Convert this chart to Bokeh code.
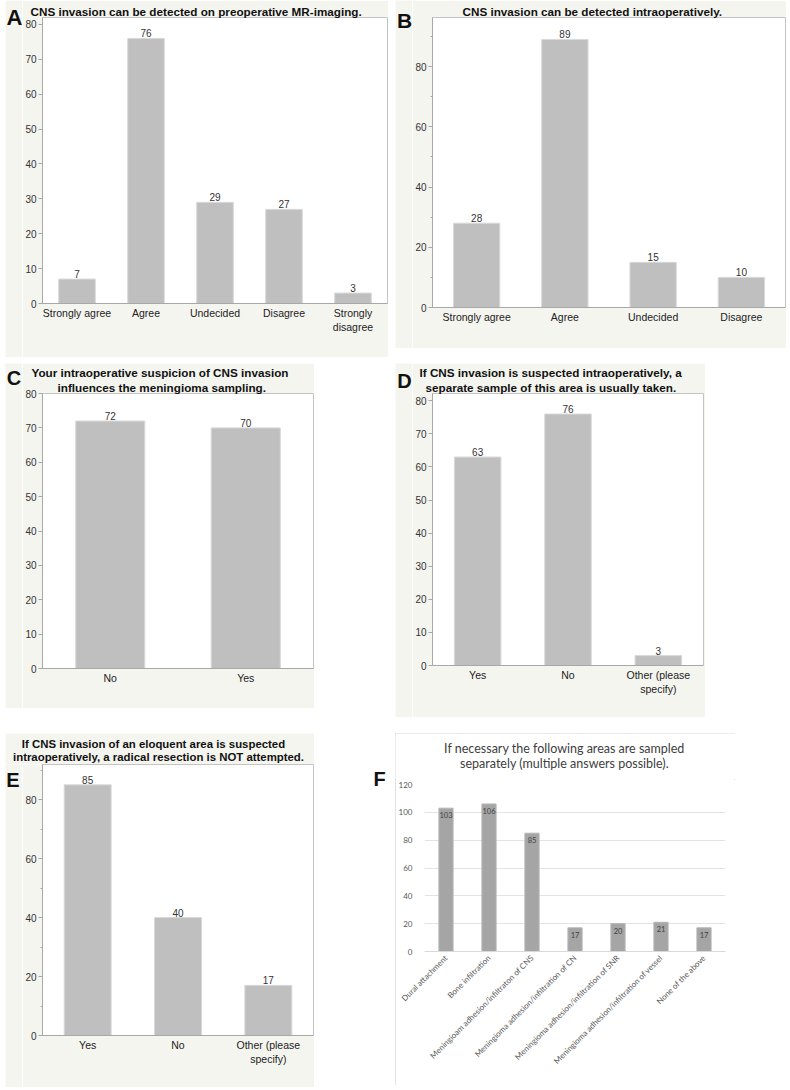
import math
from bokeh.plotting import figure
from bokeh.models import Label, Range1d, SingleIntervalTicker, ColumnDataSource, Spacer, Title
from bokeh.layouts import row, column
from bokeh.core.properties import value
from bokeh.embed import file_html
from bokeh.resources import INLINE

# ---------------- data ----------------
a_title = "CNS invasion can be detected on preoperative MR-imaging."
a_cats = ["Strongly agree", "Agree", "Undecided", "Disagree", "Strongly disagree"]
a_vals = [7, 76, 29, 27, 3]

b_title = "CNS invasion can be detected intraoperatively."
b_cats = ["Strongly agree", "Agree", "Undecided", "Disagree"]
b_vals = [28, 89, 15, 10]

c_title = ["Your intraoperative suspicion of CNS invasion",
           "influences the meningioma sampling."]
c_cats = ["No", "Yes"]
c_vals = [72, 70]

d_title = ["If CNS invasion is suspected intraoperatively, a",
           "separate sample of this area is usually taken."]
d_cats = ["Yes", "No", "Other (please specify)"]
d_vals = [63, 76, 3]

e_title = ["If CNS invasion of an eloquent area is suspected",
           "intraoperatively, a radical resection is NOT attempted."]
e_cats = ["Yes", "No", "Other (please specify)"]
e_vals = [85, 40, 17]

f_title = ["If necessary the following areas are sampled",
           "separately (multiple answers possible)."]
f_cats = ["Dural attachment", "Bone infiltration",
          "Meningioam adhesion/infiltraton of CNS",
          "Meningioma adhesion/infiltration of CN",
          "Meningioma adhesion/infiltration of SNR",
          "Meningioma adhesion/infiltration of vessel",
          "None of the above"]
f_vals = [103, 106, 85, 17, 20, 21, 17]

label_wraps = {"Strongly disagree": "Strongly\ndisagree",
               "Other (please specify)": "Other (please\nspecify)"}

JMP_FONT = "Liberation Sans"
XL_FONT = "Lato"
PANEL_BG = "#f5f5f0"


def blank(W, H, bg):
    """A figure without axes whose frame is the whole canvas, in pixel-like units (y down)."""
    p = figure(width=W, height=H, x_range=Range1d(0, W), y_range=Range1d(H, 0),
               output_backend="svg", toolbar_location=None, min_border=0,
               x_axis_location=None, y_axis_location=None)
    p.frame_align = False
    p.xgrid.visible = False
    p.ygrid.visible = False
    p.outline_line_color = None
    p.background_fill_color = bg
    p.border_fill_color = bg
    return p


def text_in(p, text, x, y, size, bold=True, font=JMP_FONT, color="#111111"):
    p.add_layout(Label(x=x, y=y, text=text, text_align="center", text_baseline="middle",
                       text_font=font, text_font_size=f"{size}px",
                       text_font_style="bold" if bold else "normal", text_color=color))


def add_titles(p, lines, offsets, size=11.7):
    # nearest-to-frame first
    for text, off in reversed(list(zip(lines, offsets))):
        p.add_layout(Title(text=text, align="left", offset=off, standoff=0,
                           vertical_align="bottom", text_font=JMP_FONT,
                           text_font_size=f"{size}px", text_font_style="bold",
                           text_color="#111111"), "above")


def jmp_chart(cats, vals, W, H, lb, rb, tb, bb, y_end, interval, minor, bw):
    disp = [label_wraps.get(c, c) for c in cats]
    p = figure(width=W, height=H, x_range=disp, y_range=Range1d(0, y_end),
               output_backend="svg", toolbar_location=None,
               min_border_left=lb, min_border_right=rb,
               min_border_top=tb, min_border_bottom=bb)
    p.frame_align = False
    p.background_fill_color = "white"
    p.border_fill_color = PANEL_BG
    p.outline_line_color = "#c4c4c4"
    p.grid.visible = False
    src = ColumnDataSource(dict(x=disp, top=vals, lab=[str(v) for v in vals]))
    p.vbar(x="x", top="top", width=bw, source=src,
           fill_color="#bfbfbf", line_color="#d9d9d9", line_width=1)
    p.text(x="x", y="top", text="lab", source=src, text_align="center",
           text_baseline="bottom", y_offset=-1, text_font=value(JMP_FONT),
           text_font_size="10px", text_color="#333333")
    ya = p.yaxis[0]
    ya.ticker = SingleIntervalTicker(interval=interval, num_minor_ticks=minor)
    ya.axis_line_color = "#a8a8a8"
    ya.major_tick_line_color = "#a8a8a8"
    ya.minor_tick_line_color = "#a8a8a8"
    ya.major_tick_in = 0
    ya.major_tick_out = 4
    ya.minor_tick_in = 0
    ya.minor_tick_out = 2
    ya.major_label_standoff = 2
    ya.major_label_text_font = JMP_FONT
    ya.major_label_text_font_size = "10px"
    ya.major_label_text_color = "#333333"
    xa = p.xaxis[0]
    xa.axis_line_color = "#a8a8a8"
    xa.major_tick_line_color = None
    xa.major_tick_out = 0
    xa.major_tick_in = 0
    xa.major_label_standoff = 3
    xa.major_label_text_font = JMP_FONT
    xa.major_label_text_font_size = "10.5px"
    xa.major_label_text_color = "#222222"
    return p


# ---- Row 1: A and B ----
sA = blank(17, 357, PANEL_BG)
text_in(sA, "A", 9, 17, 22)
pA = jmp_chart(a_cats, a_vals, 366, 357, 18, 1, 17, 54, 82, 10, 0, 0.53)
add_titles(pA, [a_title], [-12])

sB = blank(17, 348, PANEL_BG)
text_in(sB, "B", 9, 20, 21)
pB = jmp_chart(b_cats, b_vals, 374, 348, 18, 1, 17, 41, 96.3, 20, 2, 0.525)
add_titles(pB, [b_title], [30])

# ---- Row 2: C and D ----
sC = blank(17, 345, PANEL_BG)
text_in(sC, "C", 8.5, 14, 20)
pC = jmp_chart(c_cats, c_vals, 292, 345, 18, 1, 30, 40, 80, 10, 0, 0.51)
add_titles(pC, c_title, [-11, 15])

sD = blank(17, 354, PANEL_BG)
text_in(sD, "D", 9, 17, 20)
pD = jmp_chart(d_cats, d_vals, 293, 354, 17, 2, 30, 52, 82.2, 10, 0, 0.515)
add_titles(pD, d_title, [-13, -7])

# ---- Row 3: E and F ----
hE = blank(309, 31, PANEL_BG)
text_in(hE, e_title[0], 148, 10, 11.4)
text_in(hE, e_title[1], 153, 23.5, 11.4)
sE = blank(17, 323, PANEL_BG)
text_in(sE, "E", 7.5, 15, 20)
pE = jmp_chart(e_cats, e_vals, 292, 323, 18, 1, 0, 52, 91.9, 20, 2, 0.52)

fL = blank(81, 100, "white")
text_in(fL, "F", 65, 45, 20)

hF = blank(340, 46, "white")
text_in(hF, f_title[0], 169, 15, 12.5, bold=False, font=XL_FONT, color="#404040")
text_in(hF, f_title[1], 169, 30, 12.5, bold=False, font=XL_FONT, color="#404040")

pF = figure(width=340, height=306, x_range=f_cats, y_range=Range1d(0, 120),
            output_backend="svg", toolbar_location=None,
            min_border_left=29, min_border_right=10,
            min_border_top=5, min_border_bottom=134)
pF.frame_align = False
pF.background_fill_color = "white"
pF.border_fill_color = "white"
pF.outline_line_color = None
pF.xgrid.visible = False
pF.ygrid.grid_line_color = "#e3e3e3"
fsrc = ColumnDataSource(dict(x=f_cats, top=f_vals, lab=[str(v) for v in f_vals]))
pF.vbar(x="x", top="top", width=0.33, source=fsrc, fill_color="#a5a5a5", line_color="#b5b5b5")
pF.text(x="x", y="top", text="lab", source=fsrc, text_align="center", text_baseline="top",
        y_offset=4, text_font=value(XL_FONT), text_font_size="7.5px", text_color="#404040")
fya = pF.yaxis[0]
fya.ticker = SingleIntervalTicker(interval=20, num_minor_ticks=0)
fya.axis_line_color = None
fya.major_tick_line_color = None
fya.minor_tick_line_color = None
fya.major_label_standoff = 6
fya.major_label_text_font = XL_FONT
fya.major_label_text_font_size = "8px"
fya.major_label_text_color = "#595959"
fxa = pF.xaxis[0]
fxa.axis_line_color = "#d9d9d9"
fxa.major_tick_line_color = None
fxa.major_tick_out = 0
fxa.major_label_standoff = 5
fxa.major_label_orientation = math.pi / 4
fxa.major_label_text_font = XL_FONT
fxa.major_label_text_font_size = "8px"
fxa.major_label_text_color = "#595959"

fcol = column(hF, pF)
fcol.styles = {"outline": "1px solid #d9d9d9", "outline-offset": "-1px"}

layout = column(
    row(Spacer(width=5, height=1), sA, pA, Spacer(width=7, height=1), sB, pB),
    Spacer(height=6, width=1),
    row(Spacer(width=5, height=1), sC, pC, Spacer(width=81, height=1), sD, pD),
    Spacer(height=16, width=1),
    row(Spacer(width=5, height=1), column(hE, row(sE, pE)), fL, fcol),
)

open("out.html", "w").write(file_html(layout, INLINE, title="CNS invasion survey"))
